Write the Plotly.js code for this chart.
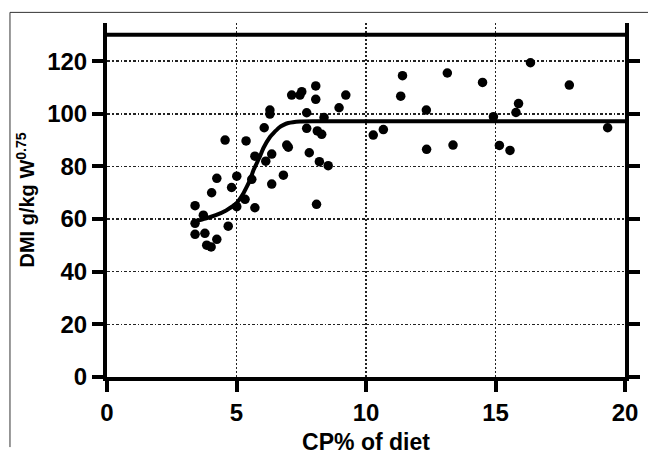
<!DOCTYPE html>
<html>
<head>
<meta charset="utf-8">
<script src="https://cdn.plot.ly/plotly-3.0.1.min.js"></script>
<style>html,body{margin:0;padding:0;background:#fff;}#chart{width:648px;height:459px;}</style>
</head>
<body>
<div id="chart"></div>
<script>
// Observed data: crude protein % of diet vs dry matter intake (g/kg W^0.75)
const cpPercent = [3.40, 3.72, 3.40, 3.40, 3.78, 3.85, 4.24, 4.02, 4.68, 4.04,
  4.24, 4.56, 4.81, 5.01, 5.01, 5.33, 5.37, 5.59, 5.71, 5.71,
  6.13, 6.07, 6.29, 6.29, 6.36, 6.36, 6.81, 6.94, 7.00, 7.13,
  7.45, 7.52, 7.71, 7.71, 7.81, 8.06, 8.06, 8.12, 8.29, 8.20,
  8.54, 8.09, 8.38, 8.96, 9.22, 10.28, 10.67, 11.34, 11.41, 12.33,
  12.34, 13.14, 13.36, 14.50, 14.92, 15.15, 15.56, 15.79, 15.89, 16.35,
  17.85, 19.33];
const dmiValues = [65.1, 61.5, 58.4, 54.2, 54.6, 50.1, 52.3, 49.4, 57.3, 70.0,
  75.5, 90.0, 72.0, 76.3, 64.7, 67.5, 89.7, 75.1, 64.3, 83.9,
  82.0, 94.7, 101.4, 99.9, 84.7, 73.3, 76.7, 88.1, 87.3, 107.1,
  107.1, 108.4, 100.4, 94.5, 85.2, 110.6, 105.5, 93.5, 92.2, 81.8,
  80.3, 65.6, 98.6, 102.3, 107.1, 91.9, 94.0, 106.7, 114.5, 101.4,
  86.5, 115.5, 88.1, 111.9, 98.9, 88.0, 86.1, 100.5, 103.9, 119.4,
  110.9, 94.7];

// Fitted curve
const fitX = [3.40, 3.80, 4.20, 4.60, 5.00, 5.25, 5.40, 5.52, 5.65, 5.90, 6.04, 6.30, 6.42, 6.65, 6.80, 7.00, 7.45, 8.00, 20.00];
const fitY = [59.2, 60.2, 61.5, 63.3, 66.0, 69.5, 72.3, 74.8, 78.5, 83.7, 87.0, 91.3, 92.6, 94.8, 95.7, 96.5, 97.1, 97.2, 97.2];

const xTicks = [0, 5, 10, 15, 20];
const yTicks = [0, 20, 40, 60, 80, 100, 120];
const frameTop = 130;

const fontFam = '"Liberation Sans", Arial, sans-serif';

const traces = [
  {
    x: cpPercent, y: dmiValues, type: 'scatter', mode: 'markers',
    marker: {color: '#000', size: 9.5, symbol: 'circle'},
    hoverinfo: 'skip', showlegend: false
  },
  {
    x: fitX, y: fitY, type: 'scatter', mode: 'lines',
    line: {color: '#000', width: 4, shape: 'spline', smoothing: 0.5},
    hoverinfo: 'skip', showlegend: false
  }
];

const axisCommon = {
  showline: true, linewidth: 4, linecolor: '#000',
  ticks: 'outside', ticklen: 11, tickwidth: 4, tickcolor: '#000',
  showgrid: true, gridcolor: '#222', gridwidth: 1.5,
  zeroline: false, automargin: false,
  tickfont: {family: fontFam, size: 24, color: '#000', weight: 'bold'}
};

const layout = {
  width: 648, height: 459,
  margin: {l: 107, r: 23, t: 23, b: 82, pad: 0},
  paper_bgcolor: '#fff', plot_bgcolor: '#fff',
  font: {family: fontFam, color: '#000'},
  xaxis: Object.assign({}, axisCommon, {
    range: [0, 20], tickvals: xTicks, ticktext: xTicks.map(String),
    griddash: '2px,2px',
    title: {text: 'CP% of diet', font: {family: fontFam, size: 23, color: '#000', weight: 'bold'}, standoff: 10}
  }),
  yaxis: Object.assign({}, axisCommon, {
    range: [0, 134.5], tickvals: yTicks, ticktext: yTicks.map(String),
    mirror: 'ticks', griddash: '3px,2px,1.5px,2px',
    title: {text: 'DMI g/kg W<sup>0.75</sup>', font: {family: fontFam, size: 20, color: '#000', weight: 'bold'}, standoff: 8}
  }),
  shapes: [
    {type: 'line', xref: 'paper', yref: 'y', x0: 0, x1: 1, y0: frameTop, y1: frameTop,
     line: {color: '#000', width: 4}},
    {type: 'line', xref: 'paper', yref: 'paper', x0: -0.1873, x1: 1.05, y0: 1.030, y1: 1.030,
     line: {color: '#333', width: 1}},
    {type: 'line', xref: 'paper', yref: 'paper', x0: -0.1873, x1: -0.1873, y0: 1.030, y1: -0.198,
     line: {color: '#333', width: 1}}
  ]
};

Plotly.newPlot('chart', traces, layout, {displayModeBar: false, staticPlot: true});
</script>
</body>
</html>
